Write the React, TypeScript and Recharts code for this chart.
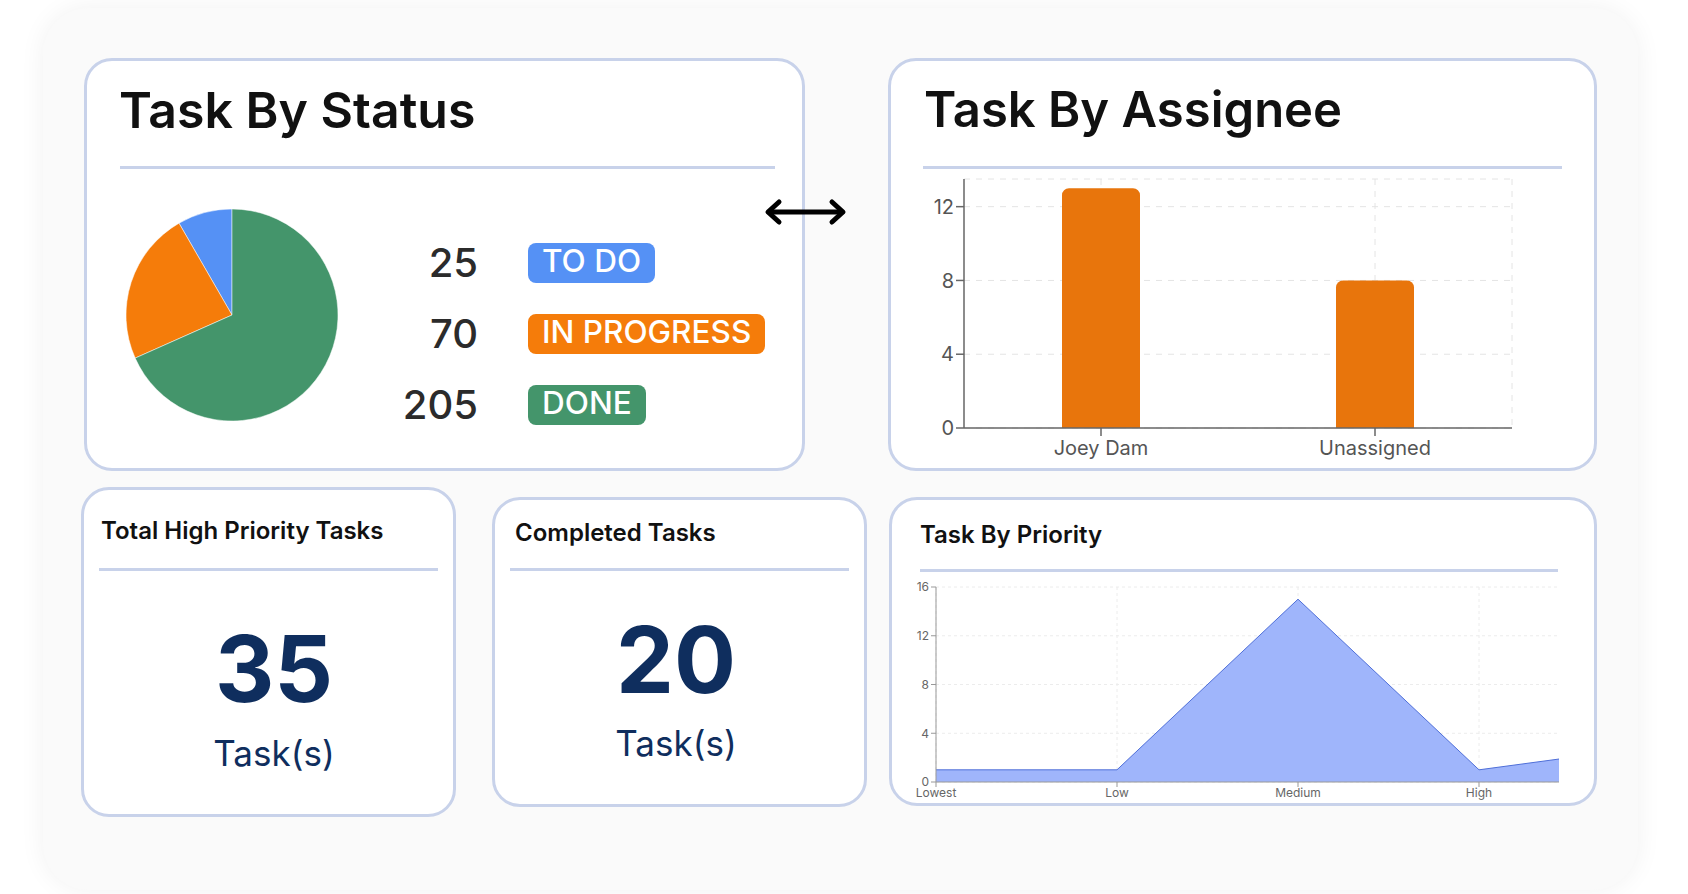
import React from 'react';
import {
  PieChart, Pie, Cell, BarChart, Bar, AreaChart, Area,
  XAxis, YAxis, CartesianGrid,
} from 'recharts';

const statusLabels = ['TO DO', 'IN PROGRESS', 'DONE'];
const statusCounts = [25, 70, 205];
const statusColors = ['#5591F5', '#F57C0A', '#44956B'];

const assignees = ['Joey Dam', 'Unassigned'];
const assigneeTasks = [13, 8];
const assigneeTicks = [0, 4, 8, 12];

const priorities = ['Lowest', 'Low', 'Medium', 'High', 'Highest'];
const priorityTasks = [1, 1, 15, 1, 3];
const priorityTicks = [0, 4, 8, 12, 16];

const highPriorityTotal = 35;
const completedTotal = 20;

const statusData = statusLabels.map((name, i) => ({ name, value: statusCounts[i] }));
const assigneeData = assignees.map((name, i) => ({ name, tasks: assigneeTasks[i] }));
const priorityData = priorities.map((name, i) => ({ name, tasks: priorityTasks[i] }));

const NAVY = '#0f2e5e';
const BORDER = '#c8d2ea';
const PRIORITY_VISIBLE_W = 664; // the priority chart is cropped by its card

const at = (left: number, top: number, width?: number, height?: number): React.CSSProperties => ({
  position: 'absolute', left, top, width, height,
});

function Panel({ x, y, w, h }: { x: number; y: number; w: number; h: number }) {
  return (
    <div style={{ ...at(x, y, w, h), border: `3px solid ${BORDER}`, borderRadius: 28, background: '#fff', boxSizing: 'border-box' }} />
  );
}

function Divider({ x, y, w }: { x: number; y: number; w: number }) {
  return <div style={{ ...at(x, y, w, 3), background: BORDER }} />;
}

function Title({ x, y, size, children }: { x: number; y: number; size: number; children: React.ReactNode }) {
  return (
    <div style={{ ...at(x, y), fontSize: size, lineHeight: `${size}px`, fontWeight: 600, color: '#111', whiteSpace: 'nowrap' }}>
      {children}
    </div>
  );
}

function StatBlock({ cx, numTop, labelTop, value }: { cx: number; numTop: number; labelTop: number; value: number }) {
  return (
    <>
      <div style={{ ...at(cx - 100, numTop, 200), textAlign: 'center', fontSize: 92, lineHeight: '92px', fontWeight: 700, color: NAVY }}>
        {value}
      </div>
      <div style={{ ...at(cx - 100, labelTop, 200), textAlign: 'center', fontSize: 35, lineHeight: '35px', color: NAVY }}>
        Task(s)
      </div>
    </>
  );
}

// x tick for the cropped priority chart: labels outside the visible part are not drawn
function PriorityTick({ x, y, payload }: any) {
  if (x > PRIORITY_VISIBLE_W) return null;
  return (
    <text x={x} y={y} dy={10} textAnchor="middle" fill="#666" fontSize={12}>
      {payload.value}
    </text>
  );
}

export default function App() {
  return (
    <div style={{ ...at(0, 0, 1688, 894), background: '#fff', overflow: 'hidden', fontFamily: 'Inter, "Noto Sans", sans-serif' }}>
      <div style={{ ...at(43, 8, 1595, 882), background: '#fafafa', borderRadius: 46, boxShadow: '0 0 26px rgba(0,0,0,0.06)' }} />

      {/* Task By Status */}
      <Panel x={84} y={58} w={721} h={413} />
      <Title x={119} y={85} size={50}>Task By Status</Title>
      <Divider x={120} y={166} w={655} />
      <div style={at(112, 195)}>
        <PieChart width={240} height={240}>
          <Pie data={statusData} dataKey="value" cx="50%" cy="50%" outerRadius={106}
            startAngle={90} endAngle={450} stroke="#fff" strokeWidth={0.5} isAnimationActive={false}>
            {statusData.map((d, i) => <Cell key={d.name} fill={statusColors[i]} />)}
          </Pie>
        </PieChart>
      </div>
      {statusData.map((d, i) => (
        <React.Fragment key={d.name}>
          <div style={{ ...at(378, 243 + i * 71, 100, 40), textAlign: 'right', fontSize: 40, lineHeight: '40px', fontWeight: 500, color: '#2b2b2b' }}>
            {d.value}
          </div>
          <div style={{ ...at(528, 243 + i * 71, undefined, 40), padding: '0 14px 5px', boxSizing: 'border-box', borderRadius: 8,
            background: statusColors[i], color: '#fff', fontSize: 31.5, lineHeight: '35px', fontWeight: 500, whiteSpace: 'nowrap' }}>
            {d.name}
          </div>
        </React.Fragment>
      ))}

      {/* Task By Assignee */}
      <Panel x={888} y={58} w={709} h={413} />
      <Title x={924} y={85} size={49}>Task By Assignee</Title>
      <Divider x={923} y={166} w={639} />
      <div style={at(900, 170)}>
        <BarChart width={632} height={296} data={assigneeData} margin={{ top: 9, right: 20, bottom: 5, left: 0 }}>
          <CartesianGrid stroke="#e4e4e4" strokeDasharray="6 6"
            verticalCoordinatesGenerator={({ offset, width }: any) => {
              const w = offset.width ?? width - offset.left - offset.right;
              const n = assigneeData.length;
              return [...assigneeData.map((_, i) => offset.left + (w * (i + 0.5)) / n), offset.left + w];
            }} />
          <XAxis dataKey="name" stroke="#666" strokeWidth={1.5} height={33}
            tick={{ fill: '#555', fontSize: 20 }} tickSize={8} tickMargin={5} />
          <YAxis domain={[0, 13.5]} ticks={assigneeTicks} width={64} stroke="#666" strokeWidth={1.5}
            tick={{ fill: '#555', fontSize: 20 }} tickSize={8} />
          <Bar dataKey="tasks" fill="#E8750C" barSize={78} radius={[7, 7, 0, 0]} isAnimationActive={false} />
        </BarChart>
      </div>

      {/* double arrow */}
      <svg style={at(758, 196, 96, 34)} viewBox="758 196 96 34">
        <g fill="none" stroke="#000" strokeWidth={5} strokeLinecap="round" strokeLinejoin="round">
          <line x1={769} y1={212} x2={842} y2={212} />
          <polyline points="779,202 768,212 779,222" />
          <polyline points="832,202 843,212 832,222" />
        </g>
      </svg>

      {/* Total High Priority Tasks */}
      <Panel x={81} y={487} w={375} h={330} />
      <Title x={101} y={519} size={24}>Total High Priority Tasks</Title>
      <Divider x={99} y={568} w={339} />
      <StatBlock cx={274} numTop={623} labelTop={736} value={highPriorityTotal} />

      {/* Completed Tasks */}
      <Panel x={492} y={497} w={375} h={310} />
      <Title x={515} y={521} size={24}>Completed Tasks</Title>
      <Divider x={510} y={568} w={339} />
      <StatBlock cx={676} numTop={614} labelTop={726} value={completedTotal} />

      {/* Task By Priority */}
      <Panel x={889} y={497} w={708} h={309} />
      <Title x={920} y={523} size={24}>Task By Priority</Title>
      <Divider x={920} y={569} w={638} />
      <div style={{ ...at(895, 578, PRIORITY_VISIBLE_W, 230), overflow: 'hidden' }}>
        <AreaChart width={765} height={224} data={priorityData} margin={{ top: 9, right: 0, bottom: 0, left: 0 }}>
          <CartesianGrid stroke="#ececec" strokeDasharray="3 3" />
          <XAxis dataKey="name" stroke="#999" height={20} interval={0}
            tick={<PriorityTick />} tickSize={5} tickMargin={0} />
          <YAxis domain={[0, 16]} ticks={priorityTicks} width={41} stroke="#999"
            tick={{ fill: '#666', fontSize: 12 }} tickSize={5} />
          <Area type="linear" dataKey="tasks" stroke="#4f6fd8" strokeWidth={1} fill="#9fb5fb" fillOpacity={1} isAnimationActive={false} />
        </AreaChart>
      </div>
    </div>
  );
}
